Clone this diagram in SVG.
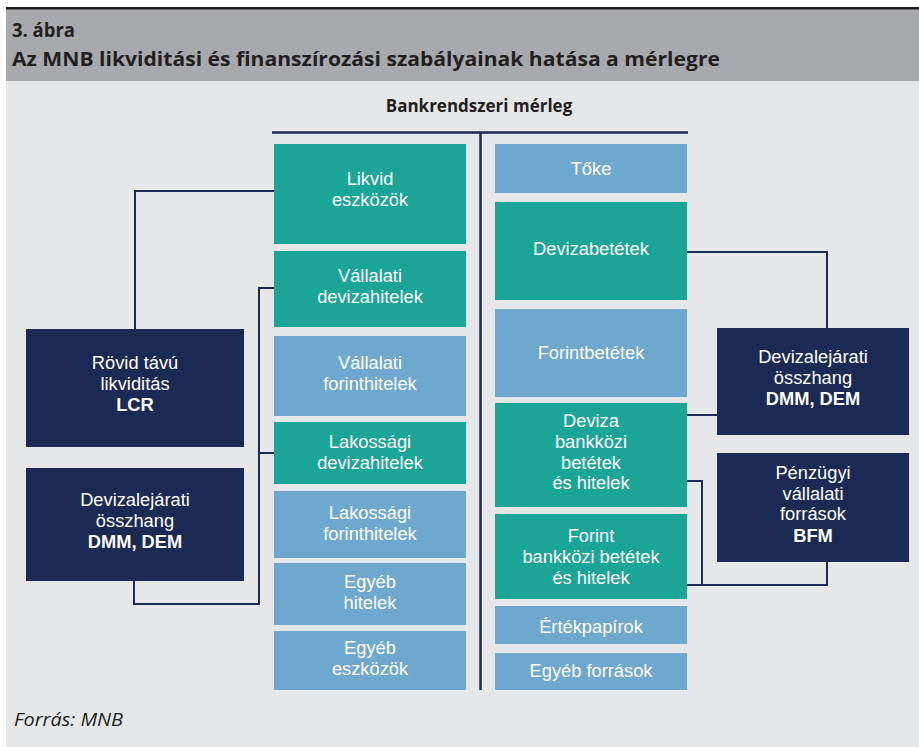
<svg xmlns="http://www.w3.org/2000/svg" width="919" height="747" viewBox="0 0 919 747">
<style>
.t{font-family:"Liberation Sans",Arial,sans-serif;font-size:18.3px;fill:#ffffff;text-anchor:middle}
.teal{fill:#1ba597}
.blue{fill:#6fa8ce}
.navy{fill:#1b2a55}
.con{fill:none;stroke:#1b2a55;stroke-width:2}
.hd{font-family:"Open Sans","Liberation Sans",sans-serif;font-weight:bold;fill:#231f20}
</style>
<rect x="0" y="0" width="919" height="747" fill="#ffffff"/>
<rect x="6" y="9" width="913" height="72" fill="#a7a9ac"/>
<rect x="6" y="81" width="913" height="666" fill="#e6e7e9"/>
<rect x="6" y="7" width="913" height="2.5" fill="#231f20"/>
<g id="header">
<text class="hd" x="12" y="37" font-size="19.5" textLength="63" lengthAdjust="spacingAndGlyphs">3. ábra</text>
<text class="hd" x="12" y="66" font-size="19.5" textLength="708" lengthAdjust="spacingAndGlyphs">Az MNB likviditási és finanszírozási szabályainak hatása a mérlegre</text>
</g>
<g id="title-balance">
<text class="hd" x="479" y="112" font-size="17" text-anchor="middle">Bankrendszeri mérleg</text>
</g>
<g id="connectors">
<path d="M272,132.5 H688 M480.5,132.5 V690" fill="none" stroke="#1b2a55" stroke-width="2.5"/>
<path class="con" d="M274,191 H135 V329"/>
<path class="con" d="M274,288 H259 V604 H134 V581"/>
<path class="con" d="M274,453 H259"/>
<path class="con" d="M687,252 H827 V328"/>
<path class="con" d="M687,415 H717"/>
<path class="con" d="M687,481 H702 V585"/>
<path class="con" d="M687,585 H827 V562"/>
</g>
<g id="likvid-eszkozok"><rect class="teal" x="274" y="144" width="192" height="100"/><text class="t" y="185"><tspan x="370">Likvid</tspan><tspan x="370" dy="20.8">eszközök</tspan></text></g>
<g id="vallalati-devizahitelek"><rect class="teal" x="274" y="251" width="192" height="76"/><text class="t" y="282"><tspan x="370">Vállalati</tspan><tspan x="370" dy="20.7">devizahitelek</tspan></text></g>
<g id="vallalati-forinthitelek"><rect class="blue" x="274" y="336" width="192" height="80"/><text class="t" y="369"><tspan x="370">Vállalati</tspan><tspan x="370" dy="20.8">forinthitelek</tspan></text></g>
<g id="lakossagi-devizahitelek"><rect class="teal" x="274" y="422" width="192" height="62"/><text class="t" y="448"><tspan x="370">Lakossági</tspan><tspan x="370" dy="20.7">devizahitelek</tspan></text></g>
<g id="lakossagi-forinthitelek"><rect class="blue" x="274" y="491" width="192" height="67"/><text class="t" y="519"><tspan x="370">Lakossági</tspan><tspan x="370" dy="20.7">forinthitelek</tspan></text></g>
<g id="egyeb-hitelek"><rect class="blue" x="274" y="563" width="192" height="62"/><text class="t" y="588"><tspan x="370">Egyéb</tspan><tspan x="370" dy="20.7">hitelek</tspan></text></g>
<g id="egyeb-eszkozok"><rect class="blue" x="274" y="631" width="192" height="59"/><text class="t" y="654"><tspan x="370">Egyéb</tspan><tspan x="370" dy="20.8">eszközök</tspan></text></g>
<g id="toke"><rect class="blue" x="495" y="144" width="192" height="49"/><text class="t" x="591" y="175">Tőke</text></g>
<g id="devizabetetek"><rect class="teal" x="495" y="202" width="192" height="98"/><text class="t" x="591" y="255">Devizabetétek</text></g>
<g id="forintbetetek"><rect class="blue" x="495" y="309" width="192" height="88"/><text class="t" x="591" y="359">Forintbetétek</text></g>
<g id="deviza-bankkozi"><rect class="teal" x="495" y="403" width="192" height="104"/><text class="t" y="427"><tspan x="591">Deviza</tspan><tspan x="591" dy="20.8">bankközi</tspan><tspan x="591" dy="20.8">betétek</tspan><tspan x="591" dy="20.8">és hitelek</tspan></text></g>
<g id="forint-bankkozi"><rect class="teal" x="495" y="514" width="192" height="85"/><text class="t" y="542"><tspan x="591">Forint</tspan><tspan x="591" dy="20.8">bankközi betétek</tspan><tspan x="591" dy="20.8">és hitelek</tspan></text></g>
<g id="ertekpapirok"><rect class="blue" x="495" y="606" width="192" height="38"/><text class="t" x="591" y="633">Értékpapírok</text></g>
<g id="egyeb-forrasok"><rect class="blue" x="495" y="653" width="192" height="37"/><text class="t" x="591" y="677">Egyéb források</text></g>
<g id="lcr"><rect class="navy" x="26" y="329" width="218" height="118"/><text class="t" y="369"><tspan x="135">Rövid távú</tspan><tspan x="135" dy="20.8">likviditás</tspan><tspan x="135" dy="20.8" font-weight="bold">LCR</tspan></text></g>
<g id="dmm-left"><rect class="navy" x="26" y="468" width="218" height="113"/><text class="t" y="506"><tspan x="135">Devizalejárati</tspan><tspan x="135" dy="20.8">összhang</tspan><tspan x="135" dy="20.8" font-weight="bold">DMM, DEM</tspan></text></g>
<g id="dmm-right"><rect class="navy" x="717" y="328" width="192" height="107"/><text class="t" y="363"><tspan x="813">Devizalejárati</tspan><tspan x="813" dy="21">összhang</tspan><tspan x="813" dy="21.3" font-weight="bold">DMM, DEM</tspan></text></g>
<g id="bfm"><rect class="navy" x="717" y="453" width="192" height="109"/><text class="t" y="479"><tspan x="813">Pénzügyi</tspan><tspan x="813" dy="20.7">vállalati</tspan><tspan x="813" dy="20.7">források</tspan><tspan x="813" dy="21.3" font-weight="bold">BFM</tspan></text></g>
<g id="source">
<text x="14" y="726" font-family="'Open Sans','Liberation Sans',sans-serif" font-style="italic" font-size="19" fill="#231f20" textLength="109" lengthAdjust="spacingAndGlyphs">Forrás: MNB</text>
</g>
</svg>
